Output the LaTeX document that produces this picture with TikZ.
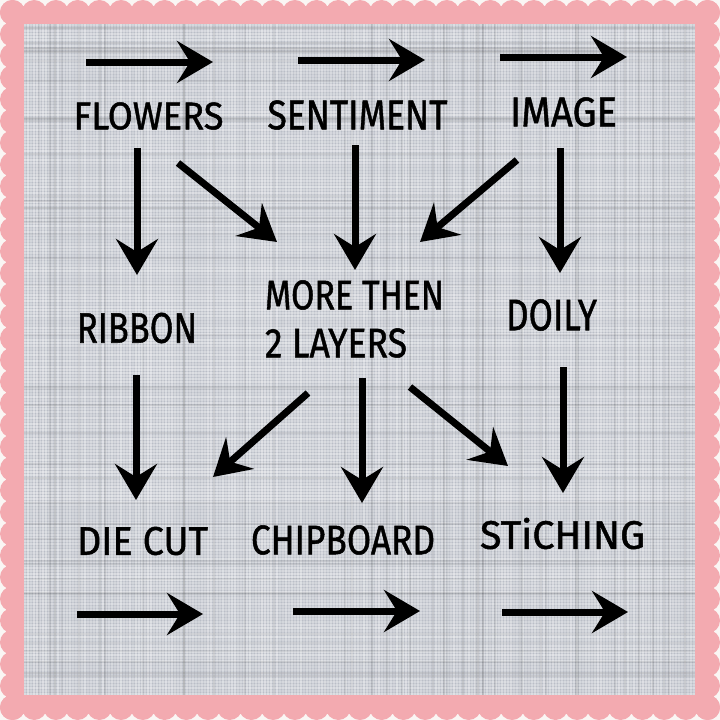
\documentclass[tikz,border=0pt]{standalone}
\usepackage{fontspec}
\usepackage{graphicx}
\usetikzlibrary{arrows.meta}
\newfontfamily\hfont[FakeBold=1.2]{Fira Sans}
\definecolor{scallop}{RGB}{243,170,176}
\definecolor{paper}{RGB}{250,246,244}
\definecolor{linen}{RGB}{186,190,199}
\newcommand{\lbl}[3]{\resizebox{#1pt}{#2pt}{\hfont #3}}
\tikzset{
  flow/.style={line width=7pt, -{Stealth[length=36pt,width=42pt,inset=13pt]}},
  word/.style={inner sep=0pt, outer sep=0pt, text=black}
}
\begin{document}
\begin{tikzpicture}[x=1pt,y=-1pt]
\useasboundingbox (0,0) rectangle (720,720);
% outer paper and scalloped frame
\fill[paper] (0,0) rectangle (720,720);
\fill[scallop] (6,6) rectangle (714,714);
\foreach \i in {0,...,32}{
  \pgfmathsetmacro{\p}{12.5+\i*21.71875}
  \fill[scallop] (\p,12.5) circle (12.5);
  \fill[scallop] (\p,707.5) circle (12.5);
  \fill[scallop] (12.5,\p) circle (12.5);
  \fill[scallop] (707.5,\p) circle (12.5);
}
% linen panel
\fill[linen] (24,24) rectangle (695,695);
\begin{scope}
\clip (24,24) rectangle (695,695);
\pgfmathsetseed{42}
\foreach \k in {0,...,223}{
  \pgfmathsetmacro{\oa}{0.18+0.22*rnd}
  \pgfmathsetmacro{\ob}{0.18+0.22*rnd}
  \draw[white, opacity=\oa, line width=1.4pt] (24,{25+\k*3}) -- (695,{25+\k*3});
  \draw[white, opacity=\ob, line width=1.4pt] ({25+\k*3},24) -- ({25+\k*3},695);
}
\foreach \k in {0,...,40}{
  \pgfmathsetmacro{\ya}{24+671*rnd}
  \pgfmathsetmacro{\xa}{24+671*rnd}
  \pgfmathsetmacro{\oc}{0.04+0.06*rnd}
  \draw[black, opacity=\oc, line width=2pt] (24,\ya) -- (695,\ya);
  \draw[black, opacity=\oc, line width=2pt] (\xa,24) -- (\xa,695);
}
\end{scope}

% labels
\node[word] (flowers)   at (148.5,116) {\lbl{150}{27}{FLOWERS}};
\node[word] (sentiment) at (357.5,115) {\lbl{180}{29}{SENTIMENT}};
\node[word] (image)     at (563.5,112) {\lbl{107}{29}{IMAGE}};
\node[word] (ribbon)    at (137,328)   {\lbl{120}{30}{RIBBON}};
\node[word, anchor=west] (more) at (265,295) {\lbl{179}{29}{MORE THEN}};
\node[word, anchor=west] (layers) at (265,343) {\lbl{142}{29}{2 LAYERS}};
\node[word] (doily)     at (551.5,315) {\lbl{91}{31}{DOILY}};
\node[word] (diecut)    at (142.5,541) {\lbl{131}{28}{DIE CUT}};
\node[word] (chipboard) at (343,540)   {\lbl{184}{29}{CHIPBOARD}};
\node[word] (stiching)  at (562.5,533.5) {\lbl{165}{31}{STiCHING}};

% arrow end points
\coordinate (t1a) at (86,62);   \coordinate (t1b) at (213,62);
\coordinate (t2a) at (298,60);  \coordinate (t2b) at (425,60);
\coordinate (t3a) at (500,57);  \coordinate (t3b) at (627,57);
\coordinate (f1a) at (137,148); \coordinate (f1b) at (137,275);
\coordinate (f2a) at (178,163); \coordinate (f2b) at (277,242);
\coordinate (s1a) at (355,145); \coordinate (s1b) at (355,270);
\coordinate (i1a) at (517,160); \coordinate (i1b) at (420,242);
\coordinate (i2a) at (560,148); \coordinate (i2b) at (560,273);
\coordinate (r1a) at (136,375); \coordinate (r1b) at (136,500);
\coordinate (m1a) at (308,393); \coordinate (m1b) at (213,477);
\coordinate (m2a) at (362,378); \coordinate (m2b) at (362,503);
\coordinate (m3a) at (410,387); \coordinate (m3b) at (508,466);
\coordinate (d1a) at (563,367); \coordinate (d1b) at (563,493);
\coordinate (b1a) at (77,614);  \coordinate (b1b) at (203,614);
\coordinate (b2a) at (293,611); \coordinate (b2b) at (420,611);
\coordinate (b3a) at (502,612); \coordinate (b3b) at (628,612);

\foreach \a/\b in {t1a/t1b,t2a/t2b,t3a/t3b,f1a/f1b,f2a/f2b,s1a/s1b,i1a/i1b,i2a/i2b,
                   r1a/r1b,m1a/m1b,m2a/m2b,m3a/m3b,d1a/d1b,b1a/b1b,b2a/b2b,b3a/b3b}
  \draw[flow] (\a) -- (\b);
\end{tikzpicture}
\end{document}
